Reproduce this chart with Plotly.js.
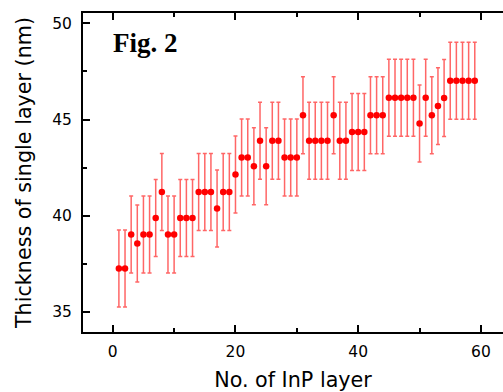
<!DOCTYPE html>
<html>
<head>
<meta charset="utf-8">
<script src="https://cdn.plot.ly/plotly-3.0.1.min.js"></script>
<style>html,body{margin:0;padding:0;background:#fff;overflow:hidden}</style>
</head>
<body>
<div id="chart" style="width:503px;height:392px"></div>
<script>
const layerNo = [1,2,3,4,5,6,7,8,9,10,11,12,13,14,15,16,17,18,19,20,
  21,22,23,24,25,26,27,28,29,30,31,32,33,34,35,36,37,38,39,40,
  41,42,43,44,45,46,47,48,49,50,51,52,53,54,55,56,57,58,59];
const thickness = [37.26,37.26,39.03,38.56,39.03,39.03,39.89,41.24,39.03,39.03,
  39.89,39.89,39.89,41.24,41.24,41.24,40.38,41.24,41.24,42.15,
  43.03,43.03,42.58,43.90,42.58,43.90,43.90,43.03,43.03,43.03,
  45.23,43.90,43.90,43.90,43.90,45.23,43.90,43.90,44.35,44.35,
  44.35,45.23,45.23,45.23,46.13,46.13,46.13,46.13,46.13,44.80,
  46.13,45.23,45.70,46.12,47.02,47.02,47.02,47.02,47.02];
const thicknessError = 2.0;
const xTickVals = [0,20,40,60];
const yTickVals = [35,40,45,50];
const xTitle = 'No. of InP layer';
const yTitle = 'Thickness of single layer (nm)';
const figLabel = '<b>Fig. 2</b>';

const trace = {
  x: layerNo, y: thickness, type: 'scatter', mode: 'markers',
  marker: {color: '#ff0000', size: 6.5},
  error_y: {type: 'constant', value: thicknessError, visible: true,
            color: 'rgba(255,0,0,0.6)', thickness: 1.5, width: 2},
  hoverinfo: 'x+y'
};

const tickFont = {family: 'DejaVu Sans', size: 15.5, color: '#000'};
const titleFont = {family: 'DejaVu Sans', size: 20.7, color: '#000'};

const layout = {
  width: 503, height: 392,
  margin: {l: 83, r: 0, t: 13, b: 60},
  paper_bgcolor: '#fff', plot_bgcolor: '#fff',
  showlegend: false,
  xaxis: {
    range: [-4.85, 63.6], showgrid: false, zeroline: false,
    showline: true, linecolor: '#000', linewidth: 2, mirror: 'ticks',
    ticks: 'inside', ticklen: 7, tickwidth: 2, tickcolor: '#000',
    tickvals: xTickVals, ticktext: xTickVals.map(String), tickfont: tickFont,
    ticklabelstandoff: 4,
    minor: {dtick: 10, tick0: 0, ticks: 'inside', ticklen: 4, tickwidth: 2, tickcolor: '#000', showgrid: false},
    title: {text: xTitle, font: titleFont, standoff: 17},
    automargin: false
  },
  yaxis: {
    range: [33.96, 50.54], showgrid: false, zeroline: false,
    showline: true, linecolor: '#000', linewidth: 2, mirror: false,
    ticks: 'inside', ticklen: 7, tickwidth: 2, tickcolor: '#000',
    tickvals: yTickVals, ticktext: yTickVals.map(String), tickfont: tickFont,
    ticklabelstandoff: 6,
    minor: {dtick: 2.5, tick0: 35, ticks: 'inside', ticklen: 4, tickwidth: 2, tickcolor: '#000', showgrid: false},
    title: {text: yTitle, font: titleFont, standoff: 15},
    automargin: false
  },
  annotations: [{
    text: figLabel, xref: 'paper', yref: 'paper', x: 0.066, y: 0.958,
    xanchor: 'left', yanchor: 'top', showarrow: false,
    font: {family: 'Liberation Serif', size: 27, color: '#000'}
  }]
};

Plotly.newPlot('chart', [trace], layout, {staticPlot: true, displayModeBar: false});
</script>
</body>
</html>
